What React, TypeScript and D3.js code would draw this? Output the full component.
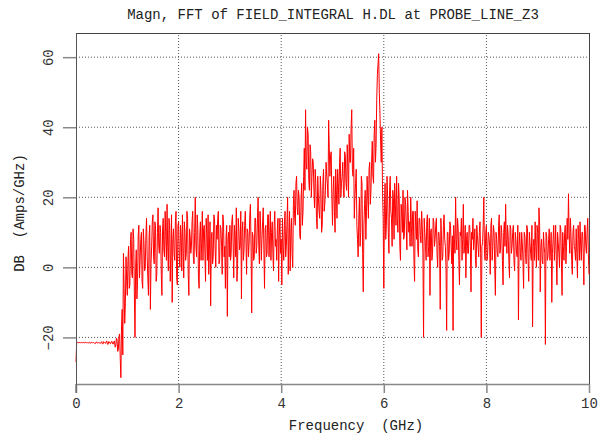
import React, { useEffect, useRef } from "react";
import * as d3 from "d3";

// spectrum, one value every 0.025 GHz from 0 to 10 GHz
const freqStart = 0;
const freqStep = 0.025;
const magnitudeDb = [
  -27, -21.4, -21.5, -21.4, -21.6, -21.5, -21.4, -21.6, -21.5, -21.5,
  -21.5, -21.7, -21.4, -21.6, -21.5, -21.8, -21.3, -21.6, -21.5, -21.7,
  -21.2, -21.9, -21.4, -21.7, -21.0, -22.0, -21.3, -21.8, -21.1, -21.9,
  -21, -22.5, -20.5, -23.5, -19, -31.5, -12, 4, -16, 3,
  -8, 6, -5, 10, -3, 8, -20, 5, -4, 12,
  2, 10, -6, 7, 0, 14, -3, 9, -12, 6,
  15, 1, 12, -2, 17, 4, 10, -8, 14, 3,
  9, 18, -1, 12, 5, -10, 11, 2, 16, -5,
  13, 0, 9, 15, -3, 10, 4, 14, -8, 9,
  6, 16, 1, 20, 3, 11, -6, 13, 7, 2,
  12, -4, 9, 15, 5, -11, 10, 3, 14, 0,
  8, 16, 2, 11, -2, 13, 6, 9, -14, 10,
  12, 4, 15, -3, 9, 17, 1, 11, 6, -9,
  13, 5, 16, -2, 10, 7, 18, -13, 9, 3,
  14, 6, 20, 1, 11, 8, 17, -6, 12, 4,
  15, 9, 2, 13, -1, 16, 8, 11, -4, 14,
  8, 14, 2, 16, 6, 20, 9, -1, 14, 0,
  22, 12, 26, 15, 20, 8, 24, 16, 34, 45,
  28, 38, 22, 33, 26, 30, 17, 24, 11, 20,
  14, 22, 12, 28, 18, 30, 24, 42, 26, 33,
  12, 26, 10, 22, 28, 18, 34, 24, 30, 20,
  32, 22, 28, 38, 30, 45, 26, 14, 24, 12,
  3, 20, 10, 24, -7, 18, 8, 26, 14, 30,
  22, 36, 24, 42, 35, 55, 61, 44, 30, 22,
  -6, 24, 12, 20, 4, 26, 14, 22, 8, 18,
  26, 10, 20, 2, 15, 22, 9, 18, 5, 16,
  13, 20, 6, 16, -4, 12, 19, 3, 14, 7,
  12, -20, 10, 2, 15, 6, -8, 11, 4, 13,
  8, 14, 0, 10, -12, 9, 3, 15, 6, -18,
  10, 4, 12, 1, -18, 8, 20, 5, 11, -5,
  9, 2, 18, 6, -3, 10, 4, 12, -7, 8,
  5, 11, 0, 9, 3, 13, -20, 7, 20, 2,
  12, 4, 9, -2, 14, 6, 10, -8, 8, 3,
  15, 5, 10, -5, 13, 18, 4, 9, -3, 11,
  6, 12, -1, 8, 3, -15, 10, 2, 7, -6,
  9, 1, 11, -4, 7, 2, -17, 8, 13, 0,
  10, 17, -7, 8, 1, 6, -22, 9, 3, 11,
  5, -10, 8, 2, 12, -5, 7, 0, 11, -8,
  6, 10, 1, 14, 21, 4, 9, -2, 12, 5,
  11, -3, 8, 13, 2, 10, -5, 12, 4, 14,
  -2,
];

// band core read between those samples (at +0.0125 GHz)
const magnitudeDbHalf = [
  -21.6, -21.4, -21.5, -21.6, -21.4, -21.5, -21.6, -21.4, -21.5, -21.6,
  -21.4, -21.6, -21.5, -21.4, -21.7, -21.4, -21.6, -21.5, -21.6, -21.4,
  -21.8, -21.2, -21.6, -21.3, -21.9, -21.2, -21.7, -21.2, -21.8, -21.3,
  -22.8, -20.2, -24, -19.8, -26, -17, -25, -6, -10, -4,
  2, -6, 8, -2, 11, -7, 0, -9, 9, -3,
  8, -4, 11, -1, 9, 3, -8, 12, 1, 13,
  3, 13, -4, 10, 6, 12, -2, 11, 5, 16,
  2, 6, 14, -4, 15, 8, 4, 13, -3, 12,
  3, 12, -1, 6, 13, 2, 16, -2, 11, 4,
  13, 3, 10, 6, 15, -3, 9, 2, 16, 11,
  4, 14, 2, -2, 13, 8, 1, 15, 5, 12,
  14, 1, 12, 6, 15, 3, -6, 12, 8, 3,
  2, 13, 7, 12, 3, -4, 14, 5, 16, 10,
  2, 12, 8, 11, 3, 15, 6, 10, 2, 14,
  4, 14, 6, 16, 2, 13, 5, 11, 3, 15,
  3, 16, 10, 4, 12, 6, 2, 14, 9, 4,
  -5, 6, 12, 3, 13, -2, 16, 10, 4, 18,
  14, 24, 17, 22, 9, 20, 12, 26, 22, 30,
  40, 25, 35, 20, 31, 22, 28, 14, 26, 16,
  26, 10, 24, 16, 22, 26, 20, 34, 32, 20,
  22, 16, 28, 14, 24, 30, 20, 26, 22, 33,
  24, 35, 20, 30, 40, 28, 34, 20, 28, 8,
  14, 6, 26, 4, 12, 22, 16, 20, 28, 18,
  30, 26, 38, 30, 48, 58, 50, 36, 40, 14,
  18, 8, 26, 10, 22, 16, 6, 20, 24, 12,
  14, 24, 6, 18, 10, 8, 20, 12, 22, 10,
  6, 12, 16, 2, 16, 8, 5, 14, 9, 16,
  4, 14, 6, 13, 3, 14, 10, 2, 14, 6,
  12, 4, 10, 6, 14, 2, 12, 8, 0, 10,
  2, 13, 6, 9, 12, 4, 8, 14, 2, 10,
  14, 8, 4, 12, 8, 4, 12, 6, 10, 14,
  8, 2, 12, 6, 10, 4, 6, 12, 4, 10,
  2, 10, 6, 12, 2, 12, 0, 10, 4, 12,
  4, 12, 2, 10, 6, 8, 12, 2, 12, 4,
  10, 2, 10, 4, 12, 6, 4, 10, 2, 10,
  4, 12, 2, 10, 4, 12, 6, 2, 6, 12,
  2, 12, 6, 2, 10, 4, 10, 2, 8, 2,
  10, 4, 12, 6, 2, 10, 4, 12, 2, 10,
  2, 12, 6, 8, 10, 14, 2, 10, 6, 2,
  4, 12, 2, 6, 10, 4, 12, 6, 10, 4,
];

const xTicks = [0, 2, 4, 6, 8, 10];
const yTicks = [-20, 0, 20, 40, 60];
const xDomain = [0, 10];
const yDomain = [-33.3, 66.9];

const W = 609;
const H = 435;
const margin = { left: 76, right: 20, top: 33, bottom: 51 };
const FONT = "'Liberation Mono', 'DejaVu Sans Mono', monospace";

export default function App() {
  const svgRef = useRef<SVGSVGElement>(null);

  useEffect(() => {
    const svg = d3.select(svgRef.current);
    svg.selectAll("*").remove();

    const x = d3.scaleLinear().domain(xDomain).range([margin.left, W - margin.right]);
    const y = d3.scaleLinear().domain(yDomain).range([H - margin.bottom, margin.top]);
    const x0 = margin.left, x1 = W - margin.right;
    const y0 = H - margin.bottom, y1 = margin.top;

    // grid
    const grid = svg.append("g").attr("stroke", "#555").attr("stroke-dasharray", "1 2").attr("stroke-width", 1);
    xTicks.filter((t) => t > 0 && t < 10).forEach((t) => {
      grid.append("line").attr("x1", x(t)).attr("x2", x(t)).attr("y1", y0).attr("y2", y1);
    });
    yTicks.forEach((t) => {
      grid.append("line").attr("x1", x0).attr("x2", x1).attr("y1", y(t)).attr("y2", y(t));
    });

    // box
    svg.append("line").attr("x1", x0).attr("x2", x1).attr("y1", y1 + 0.5).attr("y2", y1 + 0.5).attr("stroke", "#444");
    svg.append("line").attr("x1", x1 + 0.5).attr("x2", x1 + 0.5).attr("y1", y1).attr("y2", y0).attr("stroke", "#444");

    // signal: on-step and half-step readings merged in frequency order
    const pts: [number, number][] = [];
    magnitudeDb.forEach((v, i) => {
      pts.push([freqStart + i * freqStep, v]);
      if (i < magnitudeDbHalf.length) pts.push([freqStart + (i + 0.5) * freqStep, magnitudeDbHalf[i]]);
    });
    const line = d3.line<[number, number]>().x((d) => x(d[0])).y((d) => y(d[1]));
    svg.append("path")
      .attr("d", line(pts))
      .attr("fill", "none")
      .attr("stroke", "#ff0000")
      .attr("stroke-width", 1)
      .attr("stroke-linejoin", "miter");

    // bottom axis
    const xAxis = d3.axisBottom(x).tickValues(xTicks).tickSize(9).tickSizeOuter(0).tickFormat(d3.format("d"));
    const gx = svg.append("g").attr("transform", `translate(0, ${y0})`).call(xAxis);
    gx.select(".domain").attr("stroke", "#888").attr("stroke-width", 1.5);
    gx.selectAll(".tick line").attr("stroke", "#888").attr("stroke-width", 1.5);
    gx.selectAll(".tick text")
      .attr("y", 14)
      .attr("font-family", FONT)
      .attr("font-size", 14)
      .attr("fill", "#333");

    // left axis
    const yAxis = d3.axisLeft(y).tickValues(yTicks).tickSize(13).tickSizeOuter(0).tickFormat(d3.format("d"));
    const gy = svg.append("g").attr("transform", `translate(${x0}, 0)`).call(yAxis);
    gy.select(".domain").attr("stroke", "#555").attr("stroke-width", 1);
    gy.selectAll(".tick line").attr("stroke", "#888").attr("stroke-width", 1.5);
    gy.selectAll(".tick text")
      .attr("x", null)
      .attr("dy", null)
      .attr("transform", "translate(-27, 0) rotate(-90)")
      .attr("text-anchor", "middle")
      .attr("dominant-baseline", "central")
      .attr("font-family", FONT)
      .attr("font-size", 14)
      .attr("fill", "#333");
    // left axis runs down past the bottom line
    svg.append("line").attr("x1", x0).attr("x2", x0).attr("y1", y0).attr("y2", y0 + 9).attr("stroke", "#555");

    // titles
    svg.append("text")
      .attr("x", 333).attr("y", 19)
      .attr("text-anchor", "middle")
      .attr("font-family", FONT).attr("font-size", 14).attr("fill", "#222")
      .text("Magn, FFT of FIELD_INTEGRAL H.DL at PROBE_LINE_Z3");
    svg.append("text")
      .attr("x", 356).attr("y", 430)
      .attr("text-anchor", "middle")
      .attr("font-family", FONT).attr("font-size", 14).attr("fill", "#222")
      .attr("xml:space", "preserve")
      .text("Frequency  (GHz)");
    svg.append("text")
      .attr("transform", "translate(24, 213) rotate(-90)")
      .attr("text-anchor", "middle")
      .attr("font-family", FONT).attr("font-size", 14).attr("fill", "#222")
      .attr("xml:space", "preserve")
      .text("DB  (Amps/GHz)");
  }, []);

  return (
    <svg
      ref={svgRef}
      width={W}
      height={H}
      style={{ position: "absolute", left: 0, top: 0, background: "#fff" }}
    />
  );
}
